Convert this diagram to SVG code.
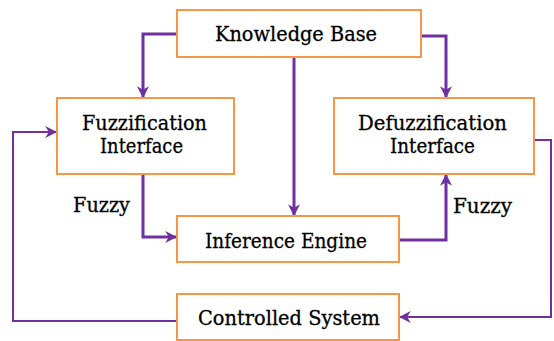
<svg xmlns="http://www.w3.org/2000/svg" width="554" height="341" viewBox="0 0 554 341">
<style>
.box{fill:#fff;stroke:#F79646;stroke-width:2}
.t{font-family:"DejaVu Serif","Liberation Serif",serif;font-size:21px;fill:#000;stroke:#000;stroke-width:0.3}
.c{fill:none;stroke:#7030A0;stroke-width:3}
.f{fill:none;stroke:#7030A0;stroke-width:2}
</style>
<defs>
<marker id="ah" viewBox="0 0 10 10" refX="9" refY="5" markerWidth="12" markerHeight="12" markerUnits="userSpaceOnUse" orient="auto">
<path d="M0,0 L10,5 L0,10 L3,5 Z" fill="#7030A0"/>
</marker>
</defs>
<g id="connectors">
<polyline class="c" points="181,34 143,34 143,97" marker-end="url(#ah)"/>
<polyline class="c" points="294,57 294,215" marker-end="url(#ah)"/>
<polyline class="c" points="421,36 446,36 446,97" marker-end="url(#ah)"/>
<polyline class="c" points="143,174 143,237 176,237" marker-end="url(#ah)"/>
<polyline class="c" points="399,240 446,240 446,175" marker-end="url(#ah)"/>
<polyline class="f" points="534,140 551,140 551,317 400,317" marker-end="url(#ah)"/>
<polyline class="f" points="177,321 13,321 13,132 56,132" marker-end="url(#ah)"/>
</g>
<g id="knowledge-base">
<rect class="box" x="177" y="10" width="244" height="47"/>
<text class="t" x="215" y="41" textLength="162" lengthAdjust="spacingAndGlyphs">Knowledge Base</text>
</g>
<g id="fuzzification">
<rect class="box" x="57" y="98" width="177" height="76"/>
<text class="t" x="82" y="130" textLength="125" lengthAdjust="spacingAndGlyphs">Fuzzification</text>
<text class="t" x="100" y="153" textLength="83" lengthAdjust="spacingAndGlyphs">Interface</text>
</g>
<g id="defuzzification">
<rect class="box" x="334" y="98" width="200" height="76"/>
<text class="t" x="358" y="130" textLength="149" lengthAdjust="spacingAndGlyphs">Defuzzification</text>
<text class="t" x="390" y="153" textLength="85" lengthAdjust="spacingAndGlyphs">Interface</text>
</g>
<g id="inference-engine">
<rect class="box" x="177" y="216" width="222" height="46"/>
<text class="t" x="205" y="248" textLength="162" lengthAdjust="spacingAndGlyphs">Inference Engine</text>
</g>
<g id="controlled-system">
<rect class="box" x="177" y="294" width="222" height="46"/>
<text class="t" x="198" y="325" textLength="182" lengthAdjust="spacingAndGlyphs">Controlled System</text>
</g>
<g id="labels">
<text class="t" x="73" y="212" textLength="57" lengthAdjust="spacingAndGlyphs">Fuzzy</text>
<text class="t" x="453" y="213" textLength="59" lengthAdjust="spacingAndGlyphs">Fuzzy</text>
</g>
</svg>
